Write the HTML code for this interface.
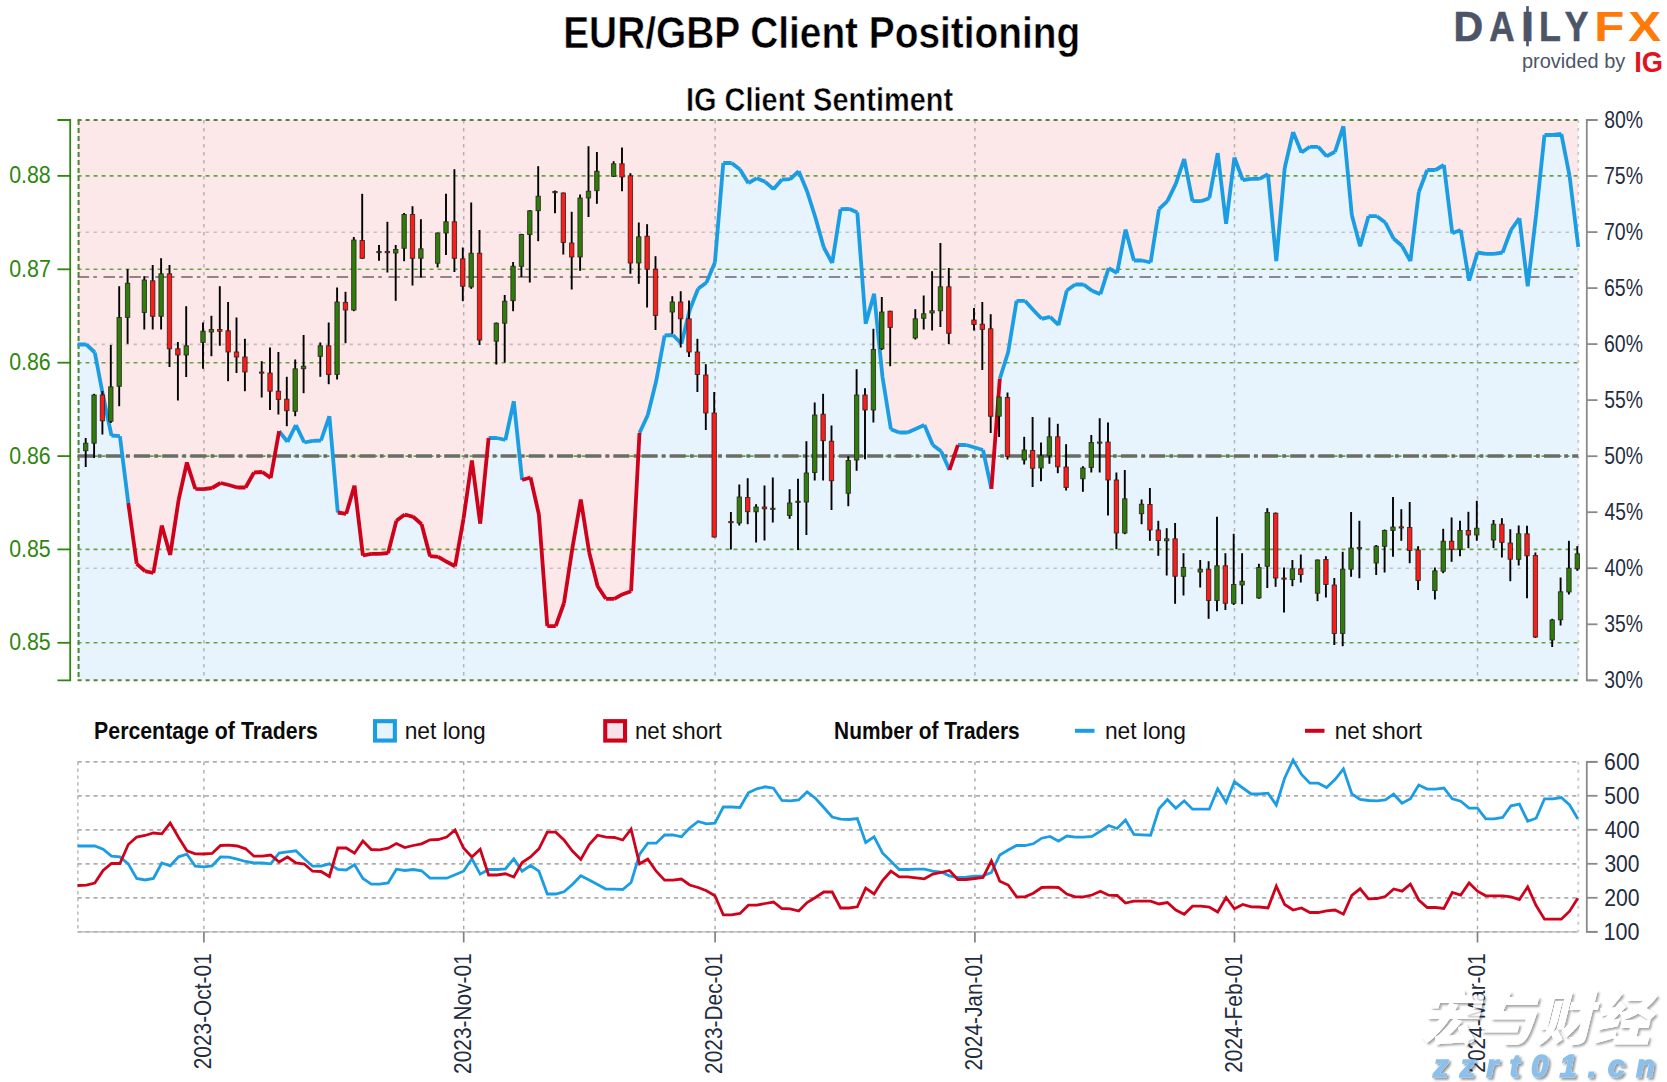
<!DOCTYPE html>
<html lang="en"><head><meta charset="utf-8"><title>EUR/GBP Client Positioning</title>
<style>html,body{margin:0;padding:0;background:#fff}svg{display:block}</style></head>
<body>
<svg width="1667" height="1082" viewBox="0 0 1667 1082" font-family="'Liberation Sans', sans-serif">
<rect width="1667" height="1082" fill="#fff"/>
<rect x="77.6" y="120.0" width="1500.7" height="560.3" fill="#fce8e9"/>
<polygon points="77.6,680.3 77.6,344.5 86.4,344.5 94.8,352.5 103.1,396.0 111.5,435.5 119.9,436.2 128.3,503.0 136.7,563.8 145.0,571.2 153.4,573.0 161.8,525.5 170.2,555.0 178.6,500.0 186.9,462.5 195.3,488.8 203.7,489.2 212.1,488.0 220.5,483.0 228.8,485.0 237.2,487.5 245.6,487.5 254.0,472.5 262.4,472.0 270.7,478.0 279.1,431.2 287.5,441.8 295.9,425.0 304.3,442.5 312.6,440.8 321.0,440.5 329.4,416.2 337.8,512.5 346.2,513.8 354.5,485.5 362.9,555.5 371.3,553.8 379.7,553.8 388.1,553.0 396.4,520.8 404.8,514.5 413.2,516.8 421.6,524.2 430.0,556.2 438.3,556.8 446.7,561.8 455.1,566.2 463.5,518.8 471.9,460.5 480.2,523.8 488.6,438.0 497.0,438.0 505.4,440.0 513.8,401.2 522.1,480.0 530.5,477.5 538.9,514.5 547.3,626.2 555.7,626.2 564.0,603.0 572.4,548.0 580.8,499.5 589.2,552.5 597.6,586.2 605.9,598.8 614.3,598.8 622.7,594.2 631.1,591.2 639.5,433.0 647.8,415.0 656.2,381.0 664.6,335.5 673.0,335.0 681.4,343.8 689.7,310.0 698.1,288.8 706.5,282.5 714.9,262.5 723.3,163.0 731.6,163.0 740.0,169.5 748.4,183.2 756.8,178.2 765.2,181.8 773.5,189.2 781.9,179.5 790.3,179.2 798.7,171.2 807.1,191.2 815.4,217.5 823.8,247.5 832.2,263.0 840.6,209.2 849.0,208.8 857.3,212.5 865.7,323.8 874.1,293.8 882.5,377.0 890.9,429.2 899.2,432.5 907.6,432.5 916.0,428.8 924.4,425.0 932.8,445.0 941.1,451.2 949.5,470.0 957.9,445.0 966.3,445.0 974.7,447.5 983.0,450.0 991.4,488.8 999.8,378.8 1008.2,352.0 1016.6,300.8 1024.9,300.8 1033.3,310.0 1041.7,318.8 1050.1,316.8 1058.5,325.0 1066.8,290.5 1075.2,284.5 1083.6,284.5 1092.0,290.8 1100.4,294.2 1108.7,268.2 1117.1,273.0 1125.5,229.5 1133.9,260.5 1142.3,260.5 1150.6,262.5 1159.0,209.2 1167.4,201.2 1175.8,183.8 1184.2,158.8 1192.5,201.2 1200.9,201.2 1209.3,198.2 1217.7,153.0 1226.1,223.8 1234.4,157.5 1242.8,180.0 1251.2,178.8 1259.6,178.8 1268.0,174.2 1276.3,261.2 1284.7,168.0 1293.1,132.0 1301.5,152.5 1309.9,146.8 1318.2,146.8 1326.6,156.2 1335.0,151.8 1343.4,126.2 1351.8,215.0 1360.1,246.2 1368.5,216.2 1376.9,216.2 1385.3,222.5 1393.7,238.8 1402.0,245.8 1410.4,261.2 1418.8,192.0 1427.2,170.0 1435.6,170.0 1443.9,165.0 1452.3,233.2 1460.7,230.0 1469.1,280.8 1477.5,252.5 1485.8,253.8 1494.2,253.8 1502.6,252.5 1511.0,230.0 1519.4,218.2 1527.7,286.2 1536.1,215.0 1544.5,135.0 1552.9,135.0 1561.3,133.8 1569.6,176.2 1578.3,247.0 1578.3,680.3" fill="#e8f4fd"/>
<line x1="203.9" y1="120.0" x2="203.9" y2="680.3" stroke="#808488" stroke-opacity="0.55" stroke-width="1.5" stroke-dasharray="3.4 4.6"/>
<line x1="463.7" y1="120.0" x2="463.7" y2="680.3" stroke="#808488" stroke-opacity="0.55" stroke-width="1.5" stroke-dasharray="3.4 4.6"/>
<line x1="715.1" y1="120.0" x2="715.1" y2="680.3" stroke="#808488" stroke-opacity="0.55" stroke-width="1.5" stroke-dasharray="3.4 4.6"/>
<line x1="974.9" y1="120.0" x2="974.9" y2="680.3" stroke="#808488" stroke-opacity="0.55" stroke-width="1.5" stroke-dasharray="3.4 4.6"/>
<line x1="1234.5" y1="120.0" x2="1234.5" y2="680.3" stroke="#808488" stroke-opacity="0.55" stroke-width="1.5" stroke-dasharray="3.4 4.6"/>
<line x1="1477.5" y1="120.0" x2="1477.5" y2="680.3" stroke="#808488" stroke-opacity="0.55" stroke-width="1.5" stroke-dasharray="3.4 4.6"/>
<line x1="77.6" y1="232.3" x2="1578.3" y2="232.3" stroke="#999" stroke-opacity="0.55" stroke-width="1.6" stroke-dasharray="3.3 4.7"/>
<line x1="77.6" y1="344.4" x2="1578.3" y2="344.4" stroke="#999" stroke-opacity="0.55" stroke-width="1.6" stroke-dasharray="3.3 4.7"/>
<line x1="77.6" y1="568.3" x2="1578.3" y2="568.3" stroke="#999" stroke-opacity="0.55" stroke-width="1.6" stroke-dasharray="3.3 4.7"/>
<line x1="77.6" y1="175.9" x2="1578.3" y2="175.9" stroke="#64a23f" stroke-width="1.6" stroke-dasharray="3.9 4.1"/>
<line x1="77.6" y1="269.3" x2="1578.3" y2="269.3" stroke="#64a23f" stroke-width="1.6" stroke-dasharray="3.9 4.1"/>
<line x1="77.6" y1="362.7" x2="1578.3" y2="362.7" stroke="#64a23f" stroke-width="1.6" stroke-dasharray="3.9 4.1"/>
<line x1="77.6" y1="456.1" x2="1578.3" y2="456.1" stroke="#64a23f" stroke-width="1.6" stroke-dasharray="3.9 4.1"/>
<line x1="77.6" y1="549.4" x2="1578.3" y2="549.4" stroke="#64a23f" stroke-width="1.6" stroke-dasharray="3.9 4.1"/>
<line x1="77.6" y1="642.8" x2="1578.3" y2="642.8" stroke="#64a23f" stroke-width="1.6" stroke-dasharray="3.9 4.1"/>
<line x1="77.6" y1="120.0" x2="1578.3" y2="120.0" stroke="#4f8636" stroke-width="2" stroke-dasharray="4 4"/>
<line x1="77.6" y1="680.3" x2="1578.3" y2="680.3" stroke="#4f8636" stroke-width="2" stroke-dasharray="4 4"/>
<line x1="78.6" y1="120.0" x2="78.6" y2="680.3" stroke="#4d8635" stroke-width="2" stroke-dasharray="5 3"/>
<line x1="1578.3" y1="120.0" x2="1578.3" y2="680.3" stroke="#cacaca" stroke-width="1.8" stroke-dasharray="3 5"/>
<line x1="77.6" y1="277" x2="1578.3" y2="277" stroke="#6b6464" stroke-width="1.6" stroke-dasharray="11.5 4.2 3.6 6.6"/>
<line x1="77.6" y1="456" x2="1578.3" y2="456" stroke="#6a6d66" stroke-width="3.5" stroke-dasharray="16 4.2 3.8 4.2"/>
<path d="M77.6 344.5L86.4 344.5M86.4 344.5L94.8 352.5M94.8 352.5L103.1 396.0M103.1 396.0L111.5 435.5M111.5 435.5L119.9 436.2M119.9 436.2L128.3 503.0M279.1 431.2L287.5 441.8M287.5 441.8L295.9 425.0M295.9 425.0L304.3 442.5M304.3 442.5L312.6 440.8M312.6 440.8L321.0 440.5M321.0 440.5L329.4 416.2M329.4 416.2L337.8 512.5M488.6 438.0L497.0 438.0M497.0 438.0L505.4 440.0M505.4 440.0L513.8 401.2M513.8 401.2L522.1 480.0M639.5 433.0L647.8 415.0M647.8 415.0L656.2 381.0M656.2 381.0L664.6 335.5M664.6 335.5L673.0 335.0M673.0 335.0L681.4 343.8M681.4 343.8L689.7 310.0M689.7 310.0L698.1 288.8M698.1 288.8L706.5 282.5M706.5 282.5L714.9 262.5M714.9 262.5L723.3 163.0M723.3 163.0L731.6 163.0M731.6 163.0L740.0 169.5M740.0 169.5L748.4 183.2M748.4 183.2L756.8 178.2M756.8 178.2L765.2 181.8M765.2 181.8L773.5 189.2M773.5 189.2L781.9 179.5M781.9 179.5L790.3 179.2M790.3 179.2L798.7 171.2M798.7 171.2L807.1 191.2M807.1 191.2L815.4 217.5M815.4 217.5L823.8 247.5M823.8 247.5L832.2 263.0M832.2 263.0L840.6 209.2M840.6 209.2L849.0 208.8M849.0 208.8L857.3 212.5M857.3 212.5L865.7 323.8M865.7 323.8L874.1 293.8M874.1 293.8L882.5 377.0M882.5 377.0L890.9 429.2M890.9 429.2L899.2 432.5M899.2 432.5L907.6 432.5M907.6 432.5L916.0 428.8M916.0 428.8L924.4 425.0M924.4 425.0L932.8 445.0M932.8 445.0L941.1 451.2M941.1 451.2L949.5 470.0M957.9 445.0L966.3 445.0M966.3 445.0L974.7 447.5M974.7 447.5L983.0 450.0M983.0 450.0L991.4 488.8M999.8 378.8L1008.2 352.0M1008.2 352.0L1016.6 300.8M1016.6 300.8L1024.9 300.8M1024.9 300.8L1033.3 310.0M1033.3 310.0L1041.7 318.8M1041.7 318.8L1050.1 316.8M1050.1 316.8L1058.5 325.0M1058.5 325.0L1066.8 290.5M1066.8 290.5L1075.2 284.5M1075.2 284.5L1083.6 284.5M1083.6 284.5L1092.0 290.8M1092.0 290.8L1100.4 294.2M1100.4 294.2L1108.7 268.2M1108.7 268.2L1117.1 273.0M1117.1 273.0L1125.5 229.5M1125.5 229.5L1133.9 260.5M1133.9 260.5L1142.3 260.5M1142.3 260.5L1150.6 262.5M1150.6 262.5L1159.0 209.2M1159.0 209.2L1167.4 201.2M1167.4 201.2L1175.8 183.8M1175.8 183.8L1184.2 158.8M1184.2 158.8L1192.5 201.2M1192.5 201.2L1200.9 201.2M1200.9 201.2L1209.3 198.2M1209.3 198.2L1217.7 153.0M1217.7 153.0L1226.1 223.8M1226.1 223.8L1234.4 157.5M1234.4 157.5L1242.8 180.0M1242.8 180.0L1251.2 178.8M1251.2 178.8L1259.6 178.8M1259.6 178.8L1268.0 174.2M1268.0 174.2L1276.3 261.2M1276.3 261.2L1284.7 168.0M1284.7 168.0L1293.1 132.0M1293.1 132.0L1301.5 152.5M1301.5 152.5L1309.9 146.8M1309.9 146.8L1318.2 146.8M1318.2 146.8L1326.6 156.2M1326.6 156.2L1335.0 151.8M1335.0 151.8L1343.4 126.2M1343.4 126.2L1351.8 215.0M1351.8 215.0L1360.1 246.2M1360.1 246.2L1368.5 216.2M1368.5 216.2L1376.9 216.2M1376.9 216.2L1385.3 222.5M1385.3 222.5L1393.7 238.8M1393.7 238.8L1402.0 245.8M1402.0 245.8L1410.4 261.2M1410.4 261.2L1418.8 192.0M1418.8 192.0L1427.2 170.0M1427.2 170.0L1435.6 170.0M1435.6 170.0L1443.9 165.0M1443.9 165.0L1452.3 233.2M1452.3 233.2L1460.7 230.0M1460.7 230.0L1469.1 280.8M1469.1 280.8L1477.5 252.5M1477.5 252.5L1485.8 253.8M1485.8 253.8L1494.2 253.8M1494.2 253.8L1502.6 252.5M1502.6 252.5L1511.0 230.0M1511.0 230.0L1519.4 218.2M1519.4 218.2L1527.7 286.2M1527.7 286.2L1536.1 215.0M1536.1 215.0L1544.5 135.0M1544.5 135.0L1552.9 135.0M1552.9 135.0L1561.3 133.8M1561.3 133.8L1569.6 176.2M1569.6 176.2L1578.3 247.0" stroke="#1b9de3" stroke-width="3.8" fill="none" stroke-linecap="butt"/>
<path d="M128.3 503.0L136.7 563.8M136.7 563.8L145.0 571.2M145.0 571.2L153.4 573.0M153.4 573.0L161.8 525.5M161.8 525.5L170.2 555.0M170.2 555.0L178.6 500.0M178.6 500.0L186.9 462.5M186.9 462.5L195.3 488.8M195.3 488.8L203.7 489.2M203.7 489.2L212.1 488.0M212.1 488.0L220.5 483.0M220.5 483.0L228.8 485.0M228.8 485.0L237.2 487.5M237.2 487.5L245.6 487.5M245.6 487.5L254.0 472.5M254.0 472.5L262.4 472.0M262.4 472.0L270.7 478.0M270.7 478.0L279.1 431.2M337.8 512.5L346.2 513.8M346.2 513.8L354.5 485.5M354.5 485.5L362.9 555.5M362.9 555.5L371.3 553.8M371.3 553.8L379.7 553.8M379.7 553.8L388.1 553.0M388.1 553.0L396.4 520.8M396.4 520.8L404.8 514.5M404.8 514.5L413.2 516.8M413.2 516.8L421.6 524.2M421.6 524.2L430.0 556.2M430.0 556.2L438.3 556.8M438.3 556.8L446.7 561.8M446.7 561.8L455.1 566.2M455.1 566.2L463.5 518.8M463.5 518.8L471.9 460.5M471.9 460.5L480.2 523.8M480.2 523.8L488.6 438.0M522.1 480.0L530.5 477.5M530.5 477.5L538.9 514.5M538.9 514.5L547.3 626.2M547.3 626.2L555.7 626.2M555.7 626.2L564.0 603.0M564.0 603.0L572.4 548.0M572.4 548.0L580.8 499.5M580.8 499.5L589.2 552.5M589.2 552.5L597.6 586.2M597.6 586.2L605.9 598.8M605.9 598.8L614.3 598.8M614.3 598.8L622.7 594.2M622.7 594.2L631.1 591.2M631.1 591.2L639.5 433.0M949.5 470.0L957.9 445.0M991.4 488.8L999.8 378.8" stroke="#cf021b" stroke-width="3.8" fill="none" stroke-linecap="butt"/>
<line x1="85.7" y1="438.0" x2="85.7" y2="467.0" stroke="#000" stroke-width="1.9"/>
<rect x="83.48" y="443.2" width="4.4" height="7.5" fill="#2d7d0c" stroke="#2a1e14" stroke-opacity="0.85" stroke-width="0.9"/>
<line x1="94.1" y1="393.8" x2="94.1" y2="458.0" stroke="#000" stroke-width="1.9"/>
<rect x="91.86" y="395.0" width="4.4" height="48.2" fill="#2d7d0c" stroke="#2a1e14" stroke-opacity="0.85" stroke-width="0.9"/>
<line x1="102.4" y1="391.0" x2="102.4" y2="434.5" stroke="#000" stroke-width="1.9"/>
<rect x="100.24" y="395.0" width="4.4" height="25.8" fill="#fb1c1c" stroke="#2a1e14" stroke-opacity="0.85" stroke-width="0.9"/>
<line x1="110.8" y1="345.0" x2="110.8" y2="423.0" stroke="#000" stroke-width="1.9"/>
<rect x="108.62" y="386.8" width="4.4" height="34.5" fill="#2d7d0c" stroke="#2a1e14" stroke-opacity="0.85" stroke-width="0.9"/>
<line x1="119.2" y1="286.2" x2="119.2" y2="406.2" stroke="#000" stroke-width="1.9"/>
<rect x="117.00" y="317.5" width="4.4" height="68.8" fill="#2d7d0c" stroke="#2a1e14" stroke-opacity="0.85" stroke-width="0.9"/>
<line x1="127.6" y1="269.2" x2="127.6" y2="343.8" stroke="#000" stroke-width="1.9"/>
<rect x="125.38" y="283.2" width="4.4" height="34.2" fill="#2d7d0c" stroke="#2a1e14" stroke-opacity="0.85" stroke-width="0.9"/>
<line x1="144.3" y1="276.2" x2="144.3" y2="329.5" stroke="#000" stroke-width="1.9"/>
<rect x="142.14" y="280.0" width="4.4" height="32.5" fill="#2d7d0c" stroke="#2a1e14" stroke-opacity="0.85" stroke-width="0.9"/>
<line x1="152.7" y1="265.0" x2="152.7" y2="329.5" stroke="#000" stroke-width="1.9"/>
<rect x="150.52" y="280.8" width="4.4" height="35.5" fill="#fb1c1c" stroke="#2a1e14" stroke-opacity="0.85" stroke-width="0.9"/>
<line x1="161.1" y1="258.2" x2="161.1" y2="329.5" stroke="#000" stroke-width="1.9"/>
<rect x="158.90" y="273.8" width="4.4" height="42.5" fill="#2d7d0c" stroke="#2a1e14" stroke-opacity="0.85" stroke-width="0.9"/>
<line x1="169.5" y1="265.0" x2="169.5" y2="367.0" stroke="#000" stroke-width="1.9"/>
<rect x="167.28" y="273.8" width="4.4" height="75.0" fill="#fb1c1c" stroke="#2a1e14" stroke-opacity="0.85" stroke-width="0.9"/>
<line x1="177.9" y1="342.0" x2="177.9" y2="400.5" stroke="#000" stroke-width="1.9"/>
<rect x="175.66" y="348.8" width="4.4" height="6.2" fill="#fb1c1c" stroke="#2a1e14" stroke-opacity="0.85" stroke-width="0.9"/>
<line x1="186.2" y1="306.2" x2="186.2" y2="377.0" stroke="#000" stroke-width="1.9"/>
<rect x="184.04" y="345.8" width="4.4" height="9.2" fill="#2d7d0c" stroke="#2a1e14" stroke-opacity="0.85" stroke-width="0.9"/>
<line x1="203.0" y1="322.5" x2="203.0" y2="368.8" stroke="#000" stroke-width="1.9"/>
<rect x="200.80" y="331.2" width="4.4" height="11.2" fill="#2d7d0c" stroke="#2a1e14" stroke-opacity="0.85" stroke-width="0.9"/>
<line x1="211.4" y1="315.8" x2="211.4" y2="356.2" stroke="#000" stroke-width="1.9"/>
<rect x="209.18" y="329.5" width="4.4" height="2.5" fill="#2d7d0c" stroke="#2a1e14" stroke-opacity="0.85" stroke-width="0.9"/>
<line x1="219.8" y1="286.2" x2="219.8" y2="345.8" stroke="#000" stroke-width="1.9"/>
<rect x="217.56" y="329.5" width="4.4" height="1.8" fill="#fb1c1c" stroke="#2a1e14" stroke-opacity="0.85" stroke-width="0.9"/>
<line x1="228.1" y1="302.0" x2="228.1" y2="381.2" stroke="#000" stroke-width="1.9"/>
<rect x="225.94" y="330.8" width="4.4" height="21.2" fill="#fb1c1c" stroke="#2a1e14" stroke-opacity="0.85" stroke-width="0.9"/>
<line x1="236.5" y1="317.5" x2="236.5" y2="373.0" stroke="#000" stroke-width="1.9"/>
<rect x="234.32" y="352.0" width="4.4" height="5.0" fill="#fb1c1c" stroke="#2a1e14" stroke-opacity="0.85" stroke-width="0.9"/>
<line x1="244.9" y1="338.8" x2="244.9" y2="391.2" stroke="#000" stroke-width="1.9"/>
<rect x="242.70" y="357.0" width="4.4" height="15.0" fill="#fb1c1c" stroke="#2a1e14" stroke-opacity="0.85" stroke-width="0.9"/>
<line x1="261.7" y1="361.2" x2="261.7" y2="397.5" stroke="#000" stroke-width="1.9"/>
<rect x="259.46" y="372.0" width="4.4" height="1.2" fill="#fb1c1c" stroke="#2a1e14" stroke-opacity="0.85" stroke-width="0.9"/>
<line x1="270.0" y1="347.5" x2="270.0" y2="410.0" stroke="#000" stroke-width="1.9"/>
<rect x="267.84" y="373.0" width="4.4" height="18.2" fill="#fb1c1c" stroke="#2a1e14" stroke-opacity="0.85" stroke-width="0.9"/>
<line x1="278.4" y1="352.0" x2="278.4" y2="414.5" stroke="#000" stroke-width="1.9"/>
<rect x="276.22" y="391.2" width="4.4" height="8.2" fill="#fb1c1c" stroke="#2a1e14" stroke-opacity="0.85" stroke-width="0.9"/>
<line x1="286.8" y1="376.8" x2="286.8" y2="426.2" stroke="#000" stroke-width="1.9"/>
<rect x="284.60" y="399.2" width="4.4" height="11.5" fill="#fb1c1c" stroke="#2a1e14" stroke-opacity="0.85" stroke-width="0.9"/>
<line x1="295.2" y1="359.5" x2="295.2" y2="416.2" stroke="#000" stroke-width="1.9"/>
<rect x="292.98" y="368.8" width="4.4" height="42.5" fill="#2d7d0c" stroke="#2a1e14" stroke-opacity="0.85" stroke-width="0.9"/>
<line x1="303.6" y1="335.0" x2="303.6" y2="393.2" stroke="#000" stroke-width="1.9"/>
<rect x="301.36" y="366.2" width="4.4" height="2.5" fill="#2d7d0c" stroke="#2a1e14" stroke-opacity="0.85" stroke-width="0.9"/>
<line x1="320.3" y1="342.5" x2="320.3" y2="376.8" stroke="#000" stroke-width="1.9"/>
<rect x="318.12" y="345.8" width="4.4" height="10.5" fill="#2d7d0c" stroke="#2a1e14" stroke-opacity="0.85" stroke-width="0.9"/>
<line x1="328.7" y1="322.5" x2="328.7" y2="384.2" stroke="#000" stroke-width="1.9"/>
<rect x="326.50" y="345.8" width="4.4" height="28.8" fill="#fb1c1c" stroke="#2a1e14" stroke-opacity="0.85" stroke-width="0.9"/>
<line x1="337.1" y1="287.5" x2="337.1" y2="379.5" stroke="#000" stroke-width="1.9"/>
<rect x="334.88" y="302.0" width="4.4" height="72.5" fill="#2d7d0c" stroke="#2a1e14" stroke-opacity="0.85" stroke-width="0.9"/>
<line x1="345.5" y1="291.8" x2="345.5" y2="343.2" stroke="#000" stroke-width="1.9"/>
<rect x="343.26" y="302.5" width="4.4" height="7.5" fill="#fb1c1c" stroke="#2a1e14" stroke-opacity="0.85" stroke-width="0.9"/>
<line x1="353.8" y1="237.0" x2="353.8" y2="311.2" stroke="#000" stroke-width="1.9"/>
<rect x="351.64" y="240.0" width="4.4" height="70.0" fill="#2d7d0c" stroke="#2a1e14" stroke-opacity="0.85" stroke-width="0.9"/>
<line x1="362.2" y1="193.8" x2="362.2" y2="258.8" stroke="#000" stroke-width="1.9"/>
<rect x="360.02" y="240.5" width="4.4" height="17.8" fill="#fb1c1c" stroke="#2a1e14" stroke-opacity="0.85" stroke-width="0.9"/>
<line x1="379.0" y1="245.0" x2="379.0" y2="260.8" stroke="#000" stroke-width="1.9"/>
<rect x="376.78" y="251.5" width="4.4" height="1.2" fill="#2d7d0c" stroke="#2a1e14" stroke-opacity="0.85" stroke-width="0.9"/>
<line x1="387.4" y1="221.8" x2="387.4" y2="272.5" stroke="#000" stroke-width="1.9"/>
<rect x="385.16" y="251.5" width="4.4" height="1.2" fill="#fb1c1c" stroke="#2a1e14" stroke-opacity="0.85" stroke-width="0.9"/>
<line x1="395.7" y1="245.0" x2="395.7" y2="300.8" stroke="#000" stroke-width="1.9"/>
<rect x="393.54" y="249.5" width="4.4" height="3.5" fill="#2d7d0c" stroke="#2a1e14" stroke-opacity="0.85" stroke-width="0.9"/>
<line x1="404.1" y1="213.0" x2="404.1" y2="261.2" stroke="#000" stroke-width="1.9"/>
<rect x="401.92" y="214.5" width="4.4" height="33.8" fill="#2d7d0c" stroke="#2a1e14" stroke-opacity="0.85" stroke-width="0.9"/>
<line x1="412.5" y1="206.2" x2="412.5" y2="285.5" stroke="#000" stroke-width="1.9"/>
<rect x="410.30" y="214.5" width="4.4" height="43.8" fill="#fb1c1c" stroke="#2a1e14" stroke-opacity="0.85" stroke-width="0.9"/>
<line x1="420.9" y1="219.2" x2="420.9" y2="277.5" stroke="#000" stroke-width="1.9"/>
<rect x="418.68" y="248.8" width="4.4" height="9.5" fill="#2d7d0c" stroke="#2a1e14" stroke-opacity="0.85" stroke-width="0.9"/>
<line x1="437.6" y1="232.5" x2="437.6" y2="267.5" stroke="#000" stroke-width="1.9"/>
<rect x="435.44" y="233.0" width="4.4" height="30.2" fill="#2d7d0c" stroke="#2a1e14" stroke-opacity="0.85" stroke-width="0.9"/>
<line x1="446.0" y1="193.8" x2="446.0" y2="255.0" stroke="#000" stroke-width="1.9"/>
<rect x="443.82" y="221.8" width="4.4" height="11.2" fill="#2d7d0c" stroke="#2a1e14" stroke-opacity="0.85" stroke-width="0.9"/>
<line x1="454.4" y1="169.2" x2="454.4" y2="272.0" stroke="#000" stroke-width="1.9"/>
<rect x="452.20" y="221.8" width="4.4" height="36.5" fill="#fb1c1c" stroke="#2a1e14" stroke-opacity="0.85" stroke-width="0.9"/>
<line x1="462.8" y1="247.5" x2="462.8" y2="301.2" stroke="#000" stroke-width="1.9"/>
<rect x="460.58" y="258.8" width="4.4" height="27.5" fill="#fb1c1c" stroke="#2a1e14" stroke-opacity="0.85" stroke-width="0.9"/>
<line x1="471.2" y1="202.5" x2="471.2" y2="288.8" stroke="#000" stroke-width="1.9"/>
<rect x="468.96" y="253.2" width="4.4" height="33.8" fill="#2d7d0c" stroke="#2a1e14" stroke-opacity="0.85" stroke-width="0.9"/>
<line x1="479.5" y1="230.0" x2="479.5" y2="345.0" stroke="#000" stroke-width="1.9"/>
<rect x="477.34" y="253.2" width="4.4" height="86.8" fill="#fb1c1c" stroke="#2a1e14" stroke-opacity="0.85" stroke-width="0.9"/>
<line x1="496.3" y1="322.5" x2="496.3" y2="364.5" stroke="#000" stroke-width="1.9"/>
<rect x="494.10" y="323.2" width="4.4" height="18.0" fill="#2d7d0c" stroke="#2a1e14" stroke-opacity="0.85" stroke-width="0.9"/>
<line x1="504.7" y1="295.0" x2="504.7" y2="362.5" stroke="#000" stroke-width="1.9"/>
<rect x="502.48" y="301.2" width="4.4" height="22.0" fill="#2d7d0c" stroke="#2a1e14" stroke-opacity="0.85" stroke-width="0.9"/>
<line x1="513.1" y1="262.0" x2="513.1" y2="311.2" stroke="#000" stroke-width="1.9"/>
<rect x="510.86" y="266.2" width="4.4" height="34.5" fill="#2d7d0c" stroke="#2a1e14" stroke-opacity="0.85" stroke-width="0.9"/>
<line x1="521.4" y1="233.8" x2="521.4" y2="277.0" stroke="#000" stroke-width="1.9"/>
<rect x="519.24" y="234.5" width="4.4" height="31.8" fill="#2d7d0c" stroke="#2a1e14" stroke-opacity="0.85" stroke-width="0.9"/>
<line x1="529.8" y1="210.0" x2="529.8" y2="282.5" stroke="#000" stroke-width="1.9"/>
<rect x="527.62" y="210.8" width="4.4" height="23.8" fill="#2d7d0c" stroke="#2a1e14" stroke-opacity="0.85" stroke-width="0.9"/>
<line x1="538.2" y1="166.2" x2="538.2" y2="241.2" stroke="#000" stroke-width="1.9"/>
<rect x="536.00" y="196.2" width="4.4" height="14.5" fill="#2d7d0c" stroke="#2a1e14" stroke-opacity="0.85" stroke-width="0.9"/>
<line x1="555.0" y1="190.5" x2="555.0" y2="213.2" stroke="#000" stroke-width="1.9"/>
<rect x="552.76" y="191.5" width="4.4" height="1.2" fill="#2d7d0c" stroke="#2a1e14" stroke-opacity="0.85" stroke-width="0.9"/>
<line x1="563.3" y1="192.5" x2="563.3" y2="254.5" stroke="#000" stroke-width="1.9"/>
<rect x="561.14" y="193.0" width="4.4" height="49.5" fill="#fb1c1c" stroke="#2a1e14" stroke-opacity="0.85" stroke-width="0.9"/>
<line x1="571.7" y1="211.8" x2="571.7" y2="289.5" stroke="#000" stroke-width="1.9"/>
<rect x="569.52" y="243.0" width="4.4" height="14.0" fill="#fb1c1c" stroke="#2a1e14" stroke-opacity="0.85" stroke-width="0.9"/>
<line x1="580.1" y1="194.5" x2="580.1" y2="270.8" stroke="#000" stroke-width="1.9"/>
<rect x="577.90" y="198.0" width="4.4" height="59.0" fill="#2d7d0c" stroke="#2a1e14" stroke-opacity="0.85" stroke-width="0.9"/>
<line x1="588.5" y1="146.2" x2="588.5" y2="217.0" stroke="#000" stroke-width="1.9"/>
<rect x="586.28" y="191.2" width="4.4" height="6.8" fill="#2d7d0c" stroke="#2a1e14" stroke-opacity="0.85" stroke-width="0.9"/>
<line x1="596.9" y1="152.0" x2="596.9" y2="203.8" stroke="#000" stroke-width="1.9"/>
<rect x="594.66" y="171.2" width="4.4" height="19.5" fill="#2d7d0c" stroke="#2a1e14" stroke-opacity="0.85" stroke-width="0.9"/>
<line x1="613.6" y1="161.2" x2="613.6" y2="177.0" stroke="#000" stroke-width="1.9"/>
<rect x="611.42" y="163.8" width="4.4" height="12.5" fill="#2d7d0c" stroke="#2a1e14" stroke-opacity="0.85" stroke-width="0.9"/>
<line x1="622.0" y1="147.5" x2="622.0" y2="191.2" stroke="#000" stroke-width="1.9"/>
<rect x="619.80" y="163.8" width="4.4" height="13.2" fill="#fb1c1c" stroke="#2a1e14" stroke-opacity="0.85" stroke-width="0.9"/>
<line x1="630.4" y1="173.2" x2="630.4" y2="273.8" stroke="#000" stroke-width="1.9"/>
<rect x="628.18" y="175.8" width="4.4" height="87.2" fill="#fb1c1c" stroke="#2a1e14" stroke-opacity="0.85" stroke-width="0.9"/>
<line x1="638.8" y1="222.5" x2="638.8" y2="283.8" stroke="#000" stroke-width="1.9"/>
<rect x="636.56" y="236.8" width="4.4" height="26.2" fill="#2d7d0c" stroke="#2a1e14" stroke-opacity="0.85" stroke-width="0.9"/>
<line x1="647.1" y1="224.2" x2="647.1" y2="307.5" stroke="#000" stroke-width="1.9"/>
<rect x="644.94" y="236.2" width="4.4" height="33.0" fill="#fb1c1c" stroke="#2a1e14" stroke-opacity="0.85" stroke-width="0.9"/>
<line x1="655.5" y1="256.2" x2="655.5" y2="330.0" stroke="#000" stroke-width="1.9"/>
<rect x="653.32" y="269.2" width="4.4" height="46.2" fill="#fb1c1c" stroke="#2a1e14" stroke-opacity="0.85" stroke-width="0.9"/>
<line x1="672.3" y1="296.2" x2="672.3" y2="333.8" stroke="#000" stroke-width="1.9"/>
<rect x="670.08" y="302.0" width="4.4" height="10.0" fill="#2d7d0c" stroke="#2a1e14" stroke-opacity="0.85" stroke-width="0.9"/>
<line x1="680.7" y1="291.2" x2="680.7" y2="347.5" stroke="#000" stroke-width="1.9"/>
<rect x="678.46" y="302.0" width="4.4" height="16.8" fill="#fb1c1c" stroke="#2a1e14" stroke-opacity="0.85" stroke-width="0.9"/>
<line x1="689.0" y1="300.5" x2="689.0" y2="357.0" stroke="#000" stroke-width="1.9"/>
<rect x="686.84" y="318.8" width="4.4" height="33.2" fill="#fb1c1c" stroke="#2a1e14" stroke-opacity="0.85" stroke-width="0.9"/>
<line x1="697.4" y1="338.8" x2="697.4" y2="392.0" stroke="#000" stroke-width="1.9"/>
<rect x="695.22" y="352.0" width="4.4" height="22.5" fill="#fb1c1c" stroke="#2a1e14" stroke-opacity="0.85" stroke-width="0.9"/>
<line x1="705.8" y1="364.2" x2="705.8" y2="430.0" stroke="#000" stroke-width="1.9"/>
<rect x="703.60" y="375.0" width="4.4" height="38.0" fill="#fb1c1c" stroke="#2a1e14" stroke-opacity="0.85" stroke-width="0.9"/>
<line x1="714.2" y1="392.0" x2="714.2" y2="537.5" stroke="#000" stroke-width="1.9"/>
<rect x="711.98" y="413.0" width="4.4" height="124.0" fill="#fb1c1c" stroke="#2a1e14" stroke-opacity="0.85" stroke-width="0.9"/>
<line x1="730.9" y1="512.0" x2="730.9" y2="549.5" stroke="#000" stroke-width="1.9"/>
<rect x="728.74" y="521.5" width="4.4" height="1.2" fill="#fb1c1c" stroke="#2a1e14" stroke-opacity="0.85" stroke-width="0.9"/>
<line x1="739.3" y1="484.5" x2="739.3" y2="525.5" stroke="#000" stroke-width="1.9"/>
<rect x="737.12" y="497.0" width="4.4" height="26.0" fill="#2d7d0c" stroke="#2a1e14" stroke-opacity="0.85" stroke-width="0.9"/>
<line x1="747.7" y1="478.2" x2="747.7" y2="524.2" stroke="#000" stroke-width="1.9"/>
<rect x="745.50" y="497.5" width="4.4" height="14.2" fill="#fb1c1c" stroke="#2a1e14" stroke-opacity="0.85" stroke-width="0.9"/>
<line x1="756.1" y1="504.2" x2="756.1" y2="542.5" stroke="#000" stroke-width="1.9"/>
<rect x="753.88" y="507.0" width="4.4" height="4.8" fill="#2d7d0c" stroke="#2a1e14" stroke-opacity="0.85" stroke-width="0.9"/>
<line x1="764.5" y1="485.5" x2="764.5" y2="540.5" stroke="#000" stroke-width="1.9"/>
<rect x="762.26" y="507.0" width="4.4" height="1.8" fill="#fb1c1c" stroke="#2a1e14" stroke-opacity="0.85" stroke-width="0.9"/>
<line x1="772.8" y1="477.5" x2="772.8" y2="522.5" stroke="#000" stroke-width="1.9"/>
<rect x="770.64" y="508.2" width="4.4" height="1.2" fill="#2d7d0c" stroke="#2a1e14" stroke-opacity="0.85" stroke-width="0.9"/>
<line x1="789.6" y1="489.2" x2="789.6" y2="518.8" stroke="#000" stroke-width="1.9"/>
<rect x="787.40" y="503.0" width="4.4" height="12.5" fill="#2d7d0c" stroke="#2a1e14" stroke-opacity="0.85" stroke-width="0.9"/>
<line x1="798.0" y1="478.8" x2="798.0" y2="550.0" stroke="#000" stroke-width="1.9"/>
<rect x="795.78" y="501.2" width="4.4" height="1.2" fill="#2d7d0c" stroke="#2a1e14" stroke-opacity="0.85" stroke-width="0.9"/>
<line x1="806.4" y1="441.2" x2="806.4" y2="535.0" stroke="#000" stroke-width="1.9"/>
<rect x="804.16" y="473.0" width="4.4" height="29.0" fill="#2d7d0c" stroke="#2a1e14" stroke-opacity="0.85" stroke-width="0.9"/>
<line x1="814.7" y1="402.5" x2="814.7" y2="480.5" stroke="#000" stroke-width="1.9"/>
<rect x="812.54" y="415.0" width="4.4" height="57.5" fill="#2d7d0c" stroke="#2a1e14" stroke-opacity="0.85" stroke-width="0.9"/>
<line x1="823.1" y1="393.8" x2="823.1" y2="480.5" stroke="#000" stroke-width="1.9"/>
<rect x="820.92" y="414.2" width="4.4" height="26.5" fill="#fb1c1c" stroke="#2a1e14" stroke-opacity="0.85" stroke-width="0.9"/>
<line x1="831.5" y1="425.5" x2="831.5" y2="510.0" stroke="#000" stroke-width="1.9"/>
<rect x="829.30" y="441.2" width="4.4" height="39.5" fill="#fb1c1c" stroke="#2a1e14" stroke-opacity="0.85" stroke-width="0.9"/>
<line x1="848.3" y1="456.2" x2="848.3" y2="506.2" stroke="#000" stroke-width="1.9"/>
<rect x="846.06" y="460.5" width="4.4" height="32.8" fill="#2d7d0c" stroke="#2a1e14" stroke-opacity="0.85" stroke-width="0.9"/>
<line x1="856.6" y1="369.2" x2="856.6" y2="470.8" stroke="#000" stroke-width="1.9"/>
<rect x="854.44" y="395.0" width="4.4" height="65.0" fill="#2d7d0c" stroke="#2a1e14" stroke-opacity="0.85" stroke-width="0.9"/>
<line x1="865.0" y1="388.2" x2="865.0" y2="459.2" stroke="#000" stroke-width="1.9"/>
<rect x="862.82" y="395.0" width="4.4" height="15.0" fill="#fb1c1c" stroke="#2a1e14" stroke-opacity="0.85" stroke-width="0.9"/>
<line x1="873.4" y1="328.8" x2="873.4" y2="422.5" stroke="#000" stroke-width="1.9"/>
<rect x="871.20" y="349.5" width="4.4" height="60.5" fill="#2d7d0c" stroke="#2a1e14" stroke-opacity="0.85" stroke-width="0.9"/>
<line x1="881.8" y1="297.0" x2="881.8" y2="350.0" stroke="#000" stroke-width="1.9"/>
<rect x="879.58" y="312.0" width="4.4" height="36.8" fill="#2d7d0c" stroke="#2a1e14" stroke-opacity="0.85" stroke-width="0.9"/>
<line x1="890.2" y1="310.8" x2="890.2" y2="366.2" stroke="#000" stroke-width="1.9"/>
<rect x="887.96" y="311.2" width="4.4" height="16.2" fill="#fb1c1c" stroke="#2a1e14" stroke-opacity="0.85" stroke-width="0.9"/>
<line x1="915.3" y1="309.2" x2="915.3" y2="339.5" stroke="#000" stroke-width="1.9"/>
<rect x="913.10" y="318.8" width="4.4" height="19.2" fill="#2d7d0c" stroke="#2a1e14" stroke-opacity="0.85" stroke-width="0.9"/>
<line x1="923.7" y1="295.5" x2="923.7" y2="329.5" stroke="#000" stroke-width="1.9"/>
<rect x="921.48" y="313.8" width="4.4" height="4.5" fill="#2d7d0c" stroke="#2a1e14" stroke-opacity="0.85" stroke-width="0.9"/>
<line x1="932.1" y1="271.2" x2="932.1" y2="330.5" stroke="#000" stroke-width="1.9"/>
<rect x="929.86" y="310.8" width="4.4" height="2.2" fill="#2d7d0c" stroke="#2a1e14" stroke-opacity="0.85" stroke-width="0.9"/>
<line x1="940.4" y1="243.0" x2="940.4" y2="327.0" stroke="#000" stroke-width="1.9"/>
<rect x="938.24" y="286.8" width="4.4" height="24.0" fill="#2d7d0c" stroke="#2a1e14" stroke-opacity="0.85" stroke-width="0.9"/>
<line x1="948.8" y1="268.0" x2="948.8" y2="344.2" stroke="#000" stroke-width="1.9"/>
<rect x="946.62" y="286.8" width="4.4" height="46.5" fill="#fb1c1c" stroke="#2a1e14" stroke-opacity="0.85" stroke-width="0.9"/>
<line x1="974.0" y1="308.0" x2="974.0" y2="330.5" stroke="#000" stroke-width="1.9"/>
<rect x="971.76" y="320.0" width="4.4" height="4.5" fill="#fb1c1c" stroke="#2a1e14" stroke-opacity="0.85" stroke-width="0.9"/>
<line x1="982.3" y1="302.0" x2="982.3" y2="370.0" stroke="#000" stroke-width="1.9"/>
<rect x="980.14" y="324.2" width="4.4" height="5.2" fill="#fb1c1c" stroke="#2a1e14" stroke-opacity="0.85" stroke-width="0.9"/>
<line x1="990.7" y1="314.2" x2="990.7" y2="433.0" stroke="#000" stroke-width="1.9"/>
<rect x="988.52" y="328.8" width="4.4" height="87.5" fill="#fb1c1c" stroke="#2a1e14" stroke-opacity="0.85" stroke-width="0.9"/>
<line x1="999.1" y1="397.0" x2="999.1" y2="437.0" stroke="#000" stroke-width="1.9"/>
<rect x="996.90" y="397.0" width="4.4" height="19.2" fill="#2d7d0c" stroke="#2a1e14" stroke-opacity="0.85" stroke-width="0.9"/>
<line x1="1007.5" y1="392.5" x2="1007.5" y2="459.5" stroke="#000" stroke-width="1.9"/>
<rect x="1005.28" y="397.5" width="4.4" height="58.8" fill="#fb1c1c" stroke="#2a1e14" stroke-opacity="0.85" stroke-width="0.9"/>
<line x1="1024.2" y1="436.8" x2="1024.2" y2="464.5" stroke="#000" stroke-width="1.9"/>
<rect x="1022.04" y="450.0" width="4.4" height="10.0" fill="#2d7d0c" stroke="#2a1e14" stroke-opacity="0.85" stroke-width="0.9"/>
<line x1="1032.6" y1="417.0" x2="1032.6" y2="487.0" stroke="#000" stroke-width="1.9"/>
<rect x="1030.42" y="450.5" width="4.4" height="17.8" fill="#fb1c1c" stroke="#2a1e14" stroke-opacity="0.85" stroke-width="0.9"/>
<line x1="1041.0" y1="442.5" x2="1041.0" y2="481.2" stroke="#000" stroke-width="1.9"/>
<rect x="1038.80" y="455.8" width="4.4" height="12.2" fill="#2d7d0c" stroke="#2a1e14" stroke-opacity="0.85" stroke-width="0.9"/>
<line x1="1049.4" y1="417.5" x2="1049.4" y2="463.8" stroke="#000" stroke-width="1.9"/>
<rect x="1047.18" y="436.8" width="4.4" height="19.0" fill="#2d7d0c" stroke="#2a1e14" stroke-opacity="0.85" stroke-width="0.9"/>
<line x1="1057.8" y1="423.8" x2="1057.8" y2="473.2" stroke="#000" stroke-width="1.9"/>
<rect x="1055.56" y="436.8" width="4.4" height="30.0" fill="#fb1c1c" stroke="#2a1e14" stroke-opacity="0.85" stroke-width="0.9"/>
<line x1="1066.1" y1="444.2" x2="1066.1" y2="490.5" stroke="#000" stroke-width="1.9"/>
<rect x="1063.94" y="467.0" width="4.4" height="20.5" fill="#fb1c1c" stroke="#2a1e14" stroke-opacity="0.85" stroke-width="0.9"/>
<line x1="1082.9" y1="466.2" x2="1082.9" y2="491.8" stroke="#000" stroke-width="1.9"/>
<rect x="1080.70" y="468.0" width="4.4" height="10.8" fill="#2d7d0c" stroke="#2a1e14" stroke-opacity="0.85" stroke-width="0.9"/>
<line x1="1091.3" y1="435.0" x2="1091.3" y2="472.5" stroke="#000" stroke-width="1.9"/>
<rect x="1089.08" y="442.5" width="4.4" height="25.0" fill="#2d7d0c" stroke="#2a1e14" stroke-opacity="0.85" stroke-width="0.9"/>
<line x1="1099.7" y1="418.2" x2="1099.7" y2="472.5" stroke="#000" stroke-width="1.9"/>
<rect x="1097.46" y="442.0" width="4.4" height="1.2" fill="#2d7d0c" stroke="#2a1e14" stroke-opacity="0.85" stroke-width="0.9"/>
<line x1="1108.0" y1="422.5" x2="1108.0" y2="515.5" stroke="#000" stroke-width="1.9"/>
<rect x="1105.84" y="442.0" width="4.4" height="38.0" fill="#fb1c1c" stroke="#2a1e14" stroke-opacity="0.85" stroke-width="0.9"/>
<line x1="1116.4" y1="472.5" x2="1116.4" y2="549.2" stroke="#000" stroke-width="1.9"/>
<rect x="1114.22" y="480.0" width="4.4" height="53.0" fill="#fb1c1c" stroke="#2a1e14" stroke-opacity="0.85" stroke-width="0.9"/>
<line x1="1124.8" y1="470.0" x2="1124.8" y2="534.2" stroke="#000" stroke-width="1.9"/>
<rect x="1122.60" y="498.8" width="4.4" height="34.2" fill="#2d7d0c" stroke="#2a1e14" stroke-opacity="0.85" stroke-width="0.9"/>
<line x1="1141.6" y1="499.5" x2="1141.6" y2="524.2" stroke="#000" stroke-width="1.9"/>
<rect x="1139.36" y="504.2" width="4.4" height="9.5" fill="#2d7d0c" stroke="#2a1e14" stroke-opacity="0.85" stroke-width="0.9"/>
<line x1="1149.9" y1="488.0" x2="1149.9" y2="540.8" stroke="#000" stroke-width="1.9"/>
<rect x="1147.74" y="504.5" width="4.4" height="25.5" fill="#fb1c1c" stroke="#2a1e14" stroke-opacity="0.85" stroke-width="0.9"/>
<line x1="1158.3" y1="520.8" x2="1158.3" y2="555.8" stroke="#000" stroke-width="1.9"/>
<rect x="1156.12" y="530.0" width="4.4" height="10.5" fill="#fb1c1c" stroke="#2a1e14" stroke-opacity="0.85" stroke-width="0.9"/>
<line x1="1166.7" y1="528.2" x2="1166.7" y2="575.5" stroke="#000" stroke-width="1.9"/>
<rect x="1164.50" y="538.8" width="4.4" height="2.0" fill="#2d7d0c" stroke="#2a1e14" stroke-opacity="0.85" stroke-width="0.9"/>
<line x1="1175.1" y1="523.0" x2="1175.1" y2="603.8" stroke="#000" stroke-width="1.9"/>
<rect x="1172.88" y="538.8" width="4.4" height="37.5" fill="#fb1c1c" stroke="#2a1e14" stroke-opacity="0.85" stroke-width="0.9"/>
<line x1="1183.5" y1="553.2" x2="1183.5" y2="595.5" stroke="#000" stroke-width="1.9"/>
<rect x="1181.26" y="567.5" width="4.4" height="8.8" fill="#2d7d0c" stroke="#2a1e14" stroke-opacity="0.85" stroke-width="0.9"/>
<line x1="1200.2" y1="560.0" x2="1200.2" y2="587.5" stroke="#000" stroke-width="1.9"/>
<rect x="1198.02" y="569.2" width="4.4" height="2.8" fill="#2d7d0c" stroke="#2a1e14" stroke-opacity="0.85" stroke-width="0.9"/>
<line x1="1208.6" y1="561.2" x2="1208.6" y2="618.8" stroke="#000" stroke-width="1.9"/>
<rect x="1206.40" y="569.2" width="4.4" height="31.2" fill="#fb1c1c" stroke="#2a1e14" stroke-opacity="0.85" stroke-width="0.9"/>
<line x1="1217.0" y1="516.8" x2="1217.0" y2="611.2" stroke="#000" stroke-width="1.9"/>
<rect x="1214.78" y="565.8" width="4.4" height="34.8" fill="#2d7d0c" stroke="#2a1e14" stroke-opacity="0.85" stroke-width="0.9"/>
<line x1="1225.4" y1="553.2" x2="1225.4" y2="610.0" stroke="#000" stroke-width="1.9"/>
<rect x="1223.16" y="565.8" width="4.4" height="37.5" fill="#fb1c1c" stroke="#2a1e14" stroke-opacity="0.85" stroke-width="0.9"/>
<line x1="1233.7" y1="533.8" x2="1233.7" y2="605.0" stroke="#000" stroke-width="1.9"/>
<rect x="1231.54" y="584.5" width="4.4" height="18.8" fill="#2d7d0c" stroke="#2a1e14" stroke-opacity="0.85" stroke-width="0.9"/>
<line x1="1242.1" y1="553.2" x2="1242.1" y2="604.2" stroke="#000" stroke-width="1.9"/>
<rect x="1239.92" y="581.2" width="4.4" height="3.8" fill="#2d7d0c" stroke="#2a1e14" stroke-opacity="0.85" stroke-width="0.9"/>
<line x1="1258.9" y1="563.8" x2="1258.9" y2="598.8" stroke="#000" stroke-width="1.9"/>
<rect x="1256.68" y="567.5" width="4.4" height="30.5" fill="#2d7d0c" stroke="#2a1e14" stroke-opacity="0.85" stroke-width="0.9"/>
<line x1="1267.3" y1="508.2" x2="1267.3" y2="588.0" stroke="#000" stroke-width="1.9"/>
<rect x="1265.06" y="512.5" width="4.4" height="53.8" fill="#2d7d0c" stroke="#2a1e14" stroke-opacity="0.85" stroke-width="0.9"/>
<line x1="1275.6" y1="512.5" x2="1275.6" y2="586.8" stroke="#000" stroke-width="1.9"/>
<rect x="1273.44" y="513.2" width="4.4" height="64.8" fill="#fb1c1c" stroke="#2a1e14" stroke-opacity="0.85" stroke-width="0.9"/>
<line x1="1284.0" y1="567.5" x2="1284.0" y2="612.5" stroke="#000" stroke-width="1.9"/>
<rect x="1281.82" y="578.0" width="4.4" height="1.2" fill="#fb1c1c" stroke="#2a1e14" stroke-opacity="0.85" stroke-width="0.9"/>
<line x1="1292.4" y1="560.0" x2="1292.4" y2="586.2" stroke="#000" stroke-width="1.9"/>
<rect x="1290.20" y="568.8" width="4.4" height="10.8" fill="#2d7d0c" stroke="#2a1e14" stroke-opacity="0.85" stroke-width="0.9"/>
<line x1="1300.8" y1="554.5" x2="1300.8" y2="582.5" stroke="#000" stroke-width="1.9"/>
<rect x="1298.58" y="568.8" width="4.4" height="5.8" fill="#fb1c1c" stroke="#2a1e14" stroke-opacity="0.85" stroke-width="0.9"/>
<line x1="1317.5" y1="559.5" x2="1317.5" y2="601.2" stroke="#000" stroke-width="1.9"/>
<rect x="1315.34" y="560.0" width="4.4" height="33.2" fill="#2d7d0c" stroke="#2a1e14" stroke-opacity="0.85" stroke-width="0.9"/>
<line x1="1325.9" y1="556.2" x2="1325.9" y2="597.5" stroke="#000" stroke-width="1.9"/>
<rect x="1323.72" y="559.5" width="4.4" height="25.0" fill="#fb1c1c" stroke="#2a1e14" stroke-opacity="0.85" stroke-width="0.9"/>
<line x1="1334.3" y1="578.0" x2="1334.3" y2="645.0" stroke="#000" stroke-width="1.9"/>
<rect x="1332.10" y="585.0" width="4.4" height="48.5" fill="#fb1c1c" stroke="#2a1e14" stroke-opacity="0.85" stroke-width="0.9"/>
<line x1="1342.7" y1="551.8" x2="1342.7" y2="646.2" stroke="#000" stroke-width="1.9"/>
<rect x="1340.48" y="569.2" width="4.4" height="64.2" fill="#2d7d0c" stroke="#2a1e14" stroke-opacity="0.85" stroke-width="0.9"/>
<line x1="1351.1" y1="512.0" x2="1351.1" y2="576.8" stroke="#000" stroke-width="1.9"/>
<rect x="1348.86" y="548.0" width="4.4" height="21.2" fill="#2d7d0c" stroke="#2a1e14" stroke-opacity="0.85" stroke-width="0.9"/>
<line x1="1359.4" y1="520.8" x2="1359.4" y2="578.2" stroke="#000" stroke-width="1.9"/>
<rect x="1357.24" y="547.5" width="4.4" height="1.2" fill="#2d7d0c" stroke="#2a1e14" stroke-opacity="0.85" stroke-width="0.9"/>
<line x1="1376.2" y1="545.0" x2="1376.2" y2="575.0" stroke="#000" stroke-width="1.9"/>
<rect x="1374.00" y="546.2" width="4.4" height="16.8" fill="#2d7d0c" stroke="#2a1e14" stroke-opacity="0.85" stroke-width="0.9"/>
<line x1="1384.6" y1="529.5" x2="1384.6" y2="572.5" stroke="#000" stroke-width="1.9"/>
<rect x="1382.38" y="530.5" width="4.4" height="15.8" fill="#2d7d0c" stroke="#2a1e14" stroke-opacity="0.85" stroke-width="0.9"/>
<line x1="1393.0" y1="497.0" x2="1393.0" y2="556.8" stroke="#000" stroke-width="1.9"/>
<rect x="1390.76" y="527.0" width="4.4" height="3.5" fill="#2d7d0c" stroke="#2a1e14" stroke-opacity="0.85" stroke-width="0.9"/>
<line x1="1401.3" y1="509.2" x2="1401.3" y2="540.8" stroke="#000" stroke-width="1.9"/>
<rect x="1399.14" y="526.8" width="4.4" height="1.2" fill="#fb1c1c" stroke="#2a1e14" stroke-opacity="0.85" stroke-width="0.9"/>
<line x1="1409.7" y1="502.0" x2="1409.7" y2="563.2" stroke="#000" stroke-width="1.9"/>
<rect x="1407.52" y="527.5" width="4.4" height="23.0" fill="#fb1c1c" stroke="#2a1e14" stroke-opacity="0.85" stroke-width="0.9"/>
<line x1="1418.1" y1="546.2" x2="1418.1" y2="590.0" stroke="#000" stroke-width="1.9"/>
<rect x="1415.90" y="550.0" width="4.4" height="30.5" fill="#fb1c1c" stroke="#2a1e14" stroke-opacity="0.85" stroke-width="0.9"/>
<line x1="1434.9" y1="567.5" x2="1434.9" y2="599.5" stroke="#000" stroke-width="1.9"/>
<rect x="1432.66" y="570.8" width="4.4" height="19.8" fill="#2d7d0c" stroke="#2a1e14" stroke-opacity="0.85" stroke-width="0.9"/>
<line x1="1443.2" y1="528.8" x2="1443.2" y2="573.2" stroke="#000" stroke-width="1.9"/>
<rect x="1441.04" y="541.2" width="4.4" height="30.0" fill="#2d7d0c" stroke="#2a1e14" stroke-opacity="0.85" stroke-width="0.9"/>
<line x1="1451.6" y1="517.5" x2="1451.6" y2="561.8" stroke="#000" stroke-width="1.9"/>
<rect x="1449.42" y="541.2" width="4.4" height="8.2" fill="#fb1c1c" stroke="#2a1e14" stroke-opacity="0.85" stroke-width="0.9"/>
<line x1="1460.0" y1="520.8" x2="1460.0" y2="556.2" stroke="#000" stroke-width="1.9"/>
<rect x="1457.80" y="530.5" width="4.4" height="19.0" fill="#2d7d0c" stroke="#2a1e14" stroke-opacity="0.85" stroke-width="0.9"/>
<line x1="1468.4" y1="511.8" x2="1468.4" y2="548.2" stroke="#000" stroke-width="1.9"/>
<rect x="1466.18" y="530.5" width="4.4" height="4.5" fill="#fb1c1c" stroke="#2a1e14" stroke-opacity="0.85" stroke-width="0.9"/>
<line x1="1476.8" y1="500.8" x2="1476.8" y2="540.8" stroke="#000" stroke-width="1.9"/>
<rect x="1474.56" y="528.2" width="4.4" height="6.8" fill="#2d7d0c" stroke="#2a1e14" stroke-opacity="0.85" stroke-width="0.9"/>
<line x1="1493.5" y1="520.0" x2="1493.5" y2="548.0" stroke="#000" stroke-width="1.9"/>
<rect x="1491.32" y="524.2" width="4.4" height="15.8" fill="#2d7d0c" stroke="#2a1e14" stroke-opacity="0.85" stroke-width="0.9"/>
<line x1="1501.9" y1="518.2" x2="1501.9" y2="557.5" stroke="#000" stroke-width="1.9"/>
<rect x="1499.70" y="524.2" width="4.4" height="18.2" fill="#fb1c1c" stroke="#2a1e14" stroke-opacity="0.85" stroke-width="0.9"/>
<line x1="1510.3" y1="529.2" x2="1510.3" y2="581.2" stroke="#000" stroke-width="1.9"/>
<rect x="1508.08" y="543.0" width="4.4" height="16.2" fill="#fb1c1c" stroke="#2a1e14" stroke-opacity="0.85" stroke-width="0.9"/>
<line x1="1518.7" y1="525.5" x2="1518.7" y2="565.5" stroke="#000" stroke-width="1.9"/>
<rect x="1516.46" y="533.8" width="4.4" height="25.5" fill="#2d7d0c" stroke="#2a1e14" stroke-opacity="0.85" stroke-width="0.9"/>
<line x1="1527.0" y1="525.8" x2="1527.0" y2="598.2" stroke="#000" stroke-width="1.9"/>
<rect x="1524.84" y="533.8" width="4.4" height="22.0" fill="#fb1c1c" stroke="#2a1e14" stroke-opacity="0.85" stroke-width="0.9"/>
<line x1="1535.4" y1="552.5" x2="1535.4" y2="638.0" stroke="#000" stroke-width="1.9"/>
<rect x="1533.22" y="555.5" width="4.4" height="81.5" fill="#fb1c1c" stroke="#2a1e14" stroke-opacity="0.85" stroke-width="0.9"/>
<line x1="1552.2" y1="618.8" x2="1552.2" y2="647.0" stroke="#000" stroke-width="1.9"/>
<rect x="1549.98" y="620.0" width="4.4" height="20.0" fill="#2d7d0c" stroke="#2a1e14" stroke-opacity="0.85" stroke-width="0.9"/>
<line x1="1560.6" y1="577.5" x2="1560.6" y2="625.5" stroke="#000" stroke-width="1.9"/>
<rect x="1558.36" y="591.8" width="4.4" height="28.0" fill="#2d7d0c" stroke="#2a1e14" stroke-opacity="0.85" stroke-width="0.9"/>
<line x1="1568.9" y1="540.8" x2="1568.9" y2="594.5" stroke="#000" stroke-width="1.9"/>
<rect x="1566.74" y="568.2" width="4.4" height="23.8" fill="#2d7d0c" stroke="#2a1e14" stroke-opacity="0.85" stroke-width="0.9"/>
<line x1="1577.3" y1="546.2" x2="1577.3" y2="570.8" stroke="#000" stroke-width="1.9"/>
<rect x="1575.12" y="553.8" width="4.4" height="15.0" fill="#2d7d0c" stroke="#2a1e14" stroke-opacity="0.85" stroke-width="0.9"/>
<path d="M57.4 120.0H70.2V680.3H57.4" stroke="#2e860d" stroke-width="1.8" fill="none"/>
<line x1="57.4" y1="175.9" x2="70.2" y2="175.9" stroke="#2e860d" stroke-width="1.8"/>
<text x="9.17" y="183.4" font-size="23.3" fill="#2e860d" textLength="41.56" lengthAdjust="spacingAndGlyphs">0.88</text>
<line x1="57.4" y1="269.3" x2="70.2" y2="269.3" stroke="#2e860d" stroke-width="1.8"/>
<text x="9.16" y="276.8" font-size="23.3" fill="#2e860d" textLength="41.72" lengthAdjust="spacingAndGlyphs">0.87</text>
<line x1="57.4" y1="362.7" x2="70.2" y2="362.7" stroke="#2e860d" stroke-width="1.8"/>
<text x="9.17" y="370.2" font-size="23.3" fill="#2e860d" textLength="41.57" lengthAdjust="spacingAndGlyphs">0.86</text>
<line x1="57.4" y1="456.1" x2="70.2" y2="456.1" stroke="#2e860d" stroke-width="1.8"/>
<text x="9.17" y="463.6" font-size="23.3" fill="#2e860d" textLength="41.57" lengthAdjust="spacingAndGlyphs">0.86</text>
<line x1="57.4" y1="549.4" x2="70.2" y2="549.4" stroke="#2e860d" stroke-width="1.8"/>
<text x="9.17" y="556.9" font-size="23.3" fill="#2e860d" textLength="41.53" lengthAdjust="spacingAndGlyphs">0.85</text>
<line x1="57.4" y1="642.8" x2="70.2" y2="642.8" stroke="#2e860d" stroke-width="1.8"/>
<text x="9.17" y="650.3" font-size="23.3" fill="#2e860d" textLength="41.53" lengthAdjust="spacingAndGlyphs">0.85</text>
<path d="M1597.5 120.0H1586.8V680.3H1597.5" stroke="#8a8a8a" stroke-width="1.8" fill="none"/>
<line x1="1586.8" y1="120.0" x2="1597.5" y2="120.0" stroke="#8a8a8a" stroke-width="1.8"/>
<text x="1604.16" y="127.5" font-size="23.3" fill="#1f2d3f" textLength="38.83" lengthAdjust="spacingAndGlyphs">80%</text>
<line x1="1586.8" y1="176.0" x2="1597.5" y2="176.0" stroke="#8a8a8a" stroke-width="1.8"/>
<text x="1604.00" y="183.5" font-size="23.3" fill="#1f2d3f" textLength="38.99" lengthAdjust="spacingAndGlyphs">75%</text>
<line x1="1586.8" y1="232.1" x2="1597.5" y2="232.1" stroke="#8a8a8a" stroke-width="1.8"/>
<text x="1604.00" y="239.6" font-size="23.3" fill="#1f2d3f" textLength="38.99" lengthAdjust="spacingAndGlyphs">70%</text>
<line x1="1586.8" y1="288.1" x2="1597.5" y2="288.1" stroke="#8a8a8a" stroke-width="1.8"/>
<text x="1604.01" y="295.6" font-size="23.3" fill="#1f2d3f" textLength="38.98" lengthAdjust="spacingAndGlyphs">65%</text>
<line x1="1586.8" y1="344.1" x2="1597.5" y2="344.1" stroke="#8a8a8a" stroke-width="1.8"/>
<text x="1604.01" y="351.6" font-size="23.3" fill="#1f2d3f" textLength="38.98" lengthAdjust="spacingAndGlyphs">60%</text>
<line x1="1586.8" y1="400.1" x2="1597.5" y2="400.1" stroke="#8a8a8a" stroke-width="1.8"/>
<text x="1604.22" y="407.6" font-size="23.3" fill="#1f2d3f" textLength="38.77" lengthAdjust="spacingAndGlyphs">55%</text>
<line x1="1586.8" y1="456.2" x2="1597.5" y2="456.2" stroke="#8a8a8a" stroke-width="1.8"/>
<text x="1604.22" y="463.7" font-size="23.3" fill="#1f2d3f" textLength="38.77" lengthAdjust="spacingAndGlyphs">50%</text>
<line x1="1586.8" y1="512.2" x2="1597.5" y2="512.2" stroke="#8a8a8a" stroke-width="1.8"/>
<text x="1604.56" y="519.7" font-size="23.3" fill="#1f2d3f" textLength="38.42" lengthAdjust="spacingAndGlyphs">45%</text>
<line x1="1586.8" y1="568.2" x2="1597.5" y2="568.2" stroke="#8a8a8a" stroke-width="1.8"/>
<text x="1604.56" y="575.7" font-size="23.3" fill="#1f2d3f" textLength="38.42" lengthAdjust="spacingAndGlyphs">40%</text>
<line x1="1586.8" y1="624.3" x2="1597.5" y2="624.3" stroke="#8a8a8a" stroke-width="1.8"/>
<text x="1604.26" y="631.8" font-size="23.3" fill="#1f2d3f" textLength="38.73" lengthAdjust="spacingAndGlyphs">35%</text>
<line x1="1586.8" y1="680.3" x2="1597.5" y2="680.3" stroke="#8a8a8a" stroke-width="1.8"/>
<text x="1604.26" y="687.8" font-size="23.3" fill="#1f2d3f" textLength="38.73" lengthAdjust="spacingAndGlyphs">30%</text>
<line x1="77.6" y1="761.8" x2="1578.3" y2="761.8" stroke="#aeaeae" stroke-width="1.7" stroke-dasharray="4.1 3.85"/>
<line x1="77.6" y1="795.8" x2="1578.3" y2="795.8" stroke="#aeaeae" stroke-width="1.7" stroke-dasharray="4.1 3.85"/>
<line x1="77.6" y1="829.8" x2="1578.3" y2="829.8" stroke="#aeaeae" stroke-width="1.7" stroke-dasharray="4.1 3.85"/>
<line x1="77.6" y1="863.8" x2="1578.3" y2="863.8" stroke="#aeaeae" stroke-width="1.7" stroke-dasharray="4.1 3.85"/>
<line x1="77.6" y1="897.8" x2="1578.3" y2="897.8" stroke="#aeaeae" stroke-width="1.7" stroke-dasharray="4.1 3.85"/>
<line x1="77.6" y1="931.8" x2="1578.3" y2="931.8" stroke="#aeaeae" stroke-width="1.7" stroke-dasharray="4.1 3.85"/>
<line x1="203.9" y1="761.8" x2="203.9" y2="931.8" stroke="#a8a8a8" stroke-width="1.4" stroke-dasharray="3.4 4.8"/>
<line x1="463.7" y1="761.8" x2="463.7" y2="931.8" stroke="#a8a8a8" stroke-width="1.4" stroke-dasharray="3.4 4.8"/>
<line x1="715.1" y1="761.8" x2="715.1" y2="931.8" stroke="#a8a8a8" stroke-width="1.4" stroke-dasharray="3.4 4.8"/>
<line x1="974.9" y1="761.8" x2="974.9" y2="931.8" stroke="#a8a8a8" stroke-width="1.4" stroke-dasharray="3.4 4.8"/>
<line x1="1234.5" y1="761.8" x2="1234.5" y2="931.8" stroke="#a8a8a8" stroke-width="1.4" stroke-dasharray="3.4 4.8"/>
<line x1="1477.5" y1="761.8" x2="1477.5" y2="931.8" stroke="#a8a8a8" stroke-width="1.4" stroke-dasharray="3.4 4.8"/>
<line x1="77.89999999999999" y1="761.8" x2="77.89999999999999" y2="931.8" stroke="#b0b0b0" stroke-width="1.3" stroke-dasharray="3.4 3.4"/>
<line x1="1578.3" y1="761.8" x2="1578.3" y2="931.8" stroke="#cacaca" stroke-width="1.8" stroke-dasharray="3 5"/>
<line x1="77.6" y1="931.8" x2="1578.3" y2="931.8" stroke="#b5b5b5" stroke-width="1.2"/>
<path d="M77.6 846.0L86.4 846.0L94.8 846.0L103.1 849.2L111.5 856.2L119.9 856.8L128.3 863.8L136.7 878.5L145.0 880.0L153.4 878.5L161.8 863.0L170.2 865.8L178.6 856.8L186.9 854.2L195.3 866.2L203.7 866.8L212.1 865.8L220.5 857.0L228.8 857.2L237.2 859.2L245.6 861.5L254.0 863.0L262.4 863.0L270.7 863.8L279.1 853.0L287.5 851.8L295.9 850.8L304.3 858.8L312.6 866.2L321.0 866.2L329.4 863.8L337.8 869.5L346.2 870.0L354.5 864.8L362.9 878.5L371.3 884.2L379.7 884.2L388.1 883.0L396.4 869.2L404.8 870.5L413.2 869.5L421.6 870.8L430.0 878.0L438.3 878.2L446.7 878.2L455.1 874.8L463.5 871.2L471.9 858.8L480.2 874.2L488.6 869.5L497.0 869.5L505.4 868.8L513.8 858.8L522.1 871.2L530.5 865.5L538.9 871.2L547.3 894.0L555.7 894.0L564.0 891.8L572.4 884.5L580.8 875.8L589.2 880.0L597.6 884.5L605.9 889.0L614.3 889.2L622.7 889.5L631.1 882.5L639.5 854.5L647.8 843.2L656.2 843.2L664.6 835.0L673.0 834.8L681.4 836.8L689.7 828.0L698.1 821.5L706.5 823.8L714.9 823.2L723.3 807.0L731.6 807.0L740.0 807.5L748.4 792.8L756.8 788.8L765.2 786.8L773.5 788.2L781.9 800.5L790.3 800.8L798.7 800.0L807.1 791.8L815.4 798.2L823.8 807.5L832.2 817.0L840.6 819.2L849.0 819.5L857.3 818.5L865.7 842.5L874.1 836.8L882.5 853.0L890.9 861.2L899.2 869.5L907.6 869.5L916.0 869.2L924.4 869.2L932.8 871.2L941.1 872.0L949.5 875.8L957.9 877.5L966.3 877.2L974.7 876.2L983.0 875.8L991.4 872.5L999.8 855.0L1008.2 850.0L1016.6 845.5L1024.9 845.5L1033.3 843.8L1041.7 838.2L1050.1 836.5L1058.5 841.2L1066.8 836.0L1075.2 837.2L1083.6 837.2L1092.0 836.5L1100.4 831.2L1108.7 825.5L1117.1 828.5L1125.5 820.0L1133.9 834.5L1142.3 834.8L1150.6 835.2L1159.0 808.8L1167.4 799.5L1175.8 808.2L1184.2 800.8L1192.5 809.2L1200.9 809.2L1209.3 809.2L1217.7 788.8L1226.1 802.5L1234.4 781.8L1242.8 788.0L1251.2 794.0L1259.6 794.0L1268.0 793.2L1276.3 805.0L1284.7 778.0L1293.1 760.0L1301.5 774.5L1309.9 783.2L1318.2 783.2L1326.6 787.5L1335.0 779.5L1343.4 768.8L1351.8 793.8L1360.1 799.5L1368.5 800.5L1376.9 800.8L1385.3 800.0L1393.7 794.2L1402.0 803.2L1410.4 798.8L1418.8 785.0L1427.2 789.0L1435.6 789.2L1443.9 788.0L1452.3 798.8L1460.7 801.2L1469.1 808.0L1477.5 808.2L1485.8 818.8L1494.2 818.8L1502.6 817.5L1511.0 805.8L1519.4 804.2L1527.7 821.2L1536.1 818.2L1544.5 798.8L1552.9 798.8L1561.3 797.5L1569.6 805.0L1577.8 818.8" stroke="#1b9de3" stroke-width="2.8" fill="none" stroke-linejoin="miter"/>
<path d="M77.6 885.5L86.4 885.2L94.8 883.0L103.1 870.5L111.5 863.5L119.9 863.5L128.3 844.5L136.7 837.0L145.0 835.5L153.4 833.0L161.8 833.8L170.2 823.0L178.6 837.5L186.9 850.8L195.3 853.8L203.7 854.0L212.1 853.5L220.5 845.5L228.8 845.2L237.2 846.0L245.6 848.8L254.0 856.2L262.4 856.2L270.7 855.0L279.1 862.0L287.5 857.0L295.9 862.8L304.3 864.0L312.6 871.2L321.0 871.5L329.4 876.5L337.8 848.0L346.2 848.0L354.5 853.2L362.9 841.0L371.3 849.5L379.7 849.8L388.1 848.2L396.4 843.5L404.8 847.5L413.2 845.5L421.6 843.8L430.0 839.8L438.3 839.5L446.7 837.0L455.1 830.0L463.5 848.0L471.9 857.0L480.2 849.2L488.6 875.0L497.0 875.0L505.4 873.8L513.8 877.0L522.1 862.5L530.5 857.0L538.9 848.8L547.3 832.2L555.7 832.2L564.0 840.0L572.4 851.0L580.8 859.5L589.2 844.5L597.6 835.2L605.9 837.2L614.3 837.5L622.7 840.0L631.1 829.2L639.5 863.8L647.8 859.2L656.2 871.2L664.6 880.2L673.0 880.2L681.4 879.0L689.7 885.0L698.1 887.5L706.5 890.8L714.9 895.8L723.3 914.8L731.6 914.8L740.0 913.5L748.4 905.2L756.8 905.2L765.2 903.5L773.5 902.0L781.9 908.5L790.3 908.8L798.7 911.0L807.1 902.5L815.4 897.5L823.8 892.0L832.2 892.0L840.6 908.0L849.0 908.0L857.3 906.8L865.7 888.2L874.1 894.0L882.5 880.5L890.9 871.2L899.2 876.8L907.6 876.8L916.0 877.8L924.4 878.8L932.8 874.0L941.1 872.5L949.5 870.5L957.9 879.5L966.3 879.5L974.7 878.5L983.0 877.5L991.4 860.8L999.8 881.2L1008.2 885.0L1016.6 896.8L1024.9 896.8L1033.3 893.2L1041.7 887.5L1050.1 887.2L1058.5 887.5L1066.8 894.0L1075.2 896.8L1083.6 896.8L1092.0 895.0L1100.4 891.2L1108.7 895.2L1117.1 895.5L1125.5 903.0L1133.9 901.2L1142.3 901.2L1150.6 901.2L1159.0 904.0L1167.4 902.5L1175.8 910.0L1184.2 914.2L1192.5 906.2L1200.9 906.2L1209.3 907.0L1217.7 912.0L1226.1 897.5L1234.4 908.8L1242.8 904.5L1251.2 906.8L1259.6 907.0L1268.0 908.0L1276.3 886.2L1284.7 904.5L1293.1 910.0L1301.5 908.0L1309.9 912.5L1318.2 912.5L1326.6 910.8L1335.0 910.0L1343.4 914.2L1351.8 895.5L1360.1 888.8L1368.5 898.8L1376.9 898.5L1385.3 896.5L1393.7 889.0L1402.0 891.2L1410.4 884.2L1418.8 900.0L1427.2 907.5L1435.6 907.5L1443.9 908.5L1452.3 892.5L1460.7 895.0L1469.1 883.0L1477.5 891.2L1485.8 895.8L1494.2 895.8L1502.6 895.8L1511.0 896.8L1519.4 899.5L1527.7 887.0L1536.1 905.5L1544.5 919.2L1552.9 919.2L1561.3 919.2L1569.6 911.2L1577.8 898.2" stroke="#cf021b" stroke-width="2.8" fill="none" stroke-linejoin="miter"/>
<path d="M1597.5 761.8H1586.8V931.8H1597.5" stroke="#8a8a8a" stroke-width="1.8" fill="none"/>
<line x1="1586.8" y1="761.8" x2="1597.5" y2="761.8" stroke="#8a8a8a" stroke-width="1.8"/>
<text x="1604.12" y="769.9" font-size="23.6" fill="#1f2d3f" textLength="35.41" lengthAdjust="spacingAndGlyphs">600</text>
<line x1="1586.8" y1="795.8" x2="1597.5" y2="795.8" stroke="#8a8a8a" stroke-width="1.8"/>
<text x="1604.36" y="803.9" font-size="23.6" fill="#1f2d3f" textLength="35.17" lengthAdjust="spacingAndGlyphs">500</text>
<line x1="1586.8" y1="829.8" x2="1597.5" y2="829.8" stroke="#8a8a8a" stroke-width="1.8"/>
<text x="1604.72" y="837.9" font-size="23.6" fill="#1f2d3f" textLength="34.79" lengthAdjust="spacingAndGlyphs">400</text>
<line x1="1586.8" y1="863.8" x2="1597.5" y2="863.8" stroke="#8a8a8a" stroke-width="1.8"/>
<text x="1604.40" y="871.9" font-size="23.6" fill="#1f2d3f" textLength="35.12" lengthAdjust="spacingAndGlyphs">300</text>
<line x1="1586.8" y1="897.8" x2="1597.5" y2="897.8" stroke="#8a8a8a" stroke-width="1.8"/>
<text x="1604.13" y="905.9" font-size="23.6" fill="#1f2d3f" textLength="35.40" lengthAdjust="spacingAndGlyphs">200</text>
<line x1="1586.8" y1="931.8" x2="1597.5" y2="931.8" stroke="#8a8a8a" stroke-width="1.8"/>
<text x="1603.56" y="939.9" font-size="23.6" fill="#1f2d3f" textLength="35.99" lengthAdjust="spacingAndGlyphs">100</text>
<line x1="203.9" y1="931.8" x2="203.9" y2="942.5" stroke="#828282" stroke-width="1.7"/>
<text x="-114.95" y="0" font-size="24" fill="#1f2d3f" textLength="115.97" lengthAdjust="spacingAndGlyphs" transform="translate(211.0 954.3) rotate(-90)">2023-Oct-01</text>
<line x1="463.7" y1="931.8" x2="463.7" y2="942.5" stroke="#828282" stroke-width="1.7"/>
<text x="-119.59" y="0" font-size="24" fill="#1f2d3f" textLength="120.61" lengthAdjust="spacingAndGlyphs" transform="translate(470.8 954.3) rotate(-90)">2023-Nov-01</text>
<line x1="715.1" y1="931.8" x2="715.1" y2="942.5" stroke="#828282" stroke-width="1.7"/>
<text x="-119.59" y="0" font-size="24" fill="#1f2d3f" textLength="120.61" lengthAdjust="spacingAndGlyphs" transform="translate(722.2 954.3) rotate(-90)">2023-Dec-01</text>
<line x1="974.9" y1="931.8" x2="974.9" y2="942.5" stroke="#828282" stroke-width="1.7"/>
<text x="-116.13" y="0" font-size="24" fill="#1f2d3f" textLength="117.15" lengthAdjust="spacingAndGlyphs" transform="translate(982.0 954.3) rotate(-90)">2024-Jan-01</text>
<line x1="1234.5" y1="931.8" x2="1234.5" y2="942.5" stroke="#828282" stroke-width="1.7"/>
<text x="-118.44" y="0" font-size="24" fill="#1f2d3f" textLength="119.46" lengthAdjust="spacingAndGlyphs" transform="translate(1241.6 954.3) rotate(-90)">2024-Feb-01</text>
<line x1="1477.5" y1="931.8" x2="1477.5" y2="942.5" stroke="#828282" stroke-width="1.7"/>
<text x="-118.42" y="0" font-size="24" fill="#1f2d3f" textLength="119.44" lengthAdjust="spacingAndGlyphs" transform="translate(1484.6 954.3) rotate(-90)">2024-Mar-01</text>
<text x="94.08" y="738.6" font-size="24.3" font-weight="bold" fill="#0a0a0a" textLength="223.79" lengthAdjust="spacingAndGlyphs">Percentage of Traders</text>
<rect x="375.05" y="721.15" width="19.8" height="19.4" fill="#e8f4fd" stroke="#1b9de3" stroke-width="4.1"/>
<text x="404.69" y="738.6" font-size="24.3" fill="#111" textLength="81.08" lengthAdjust="spacingAndGlyphs">net long</text>
<rect x="605.25" y="721.15" width="19.8" height="19.4" fill="#f8e4e8" stroke="#cf021b" stroke-width="4.1"/>
<text x="634.92" y="738.6" font-size="24.3" fill="#111" textLength="86.74" lengthAdjust="spacingAndGlyphs">net short</text>
<text x="834.11" y="738.6" font-size="24.3" font-weight="bold" fill="#0a0a0a" textLength="185.54" lengthAdjust="spacingAndGlyphs">Number of Traders</text>
<line x1="1075" y1="730.8" x2="1094.5" y2="730.8" stroke="#1b9de3" stroke-width="4"/>
<text x="1104.89" y="738.6" font-size="24.3" fill="#111" textLength="80.98" lengthAdjust="spacingAndGlyphs">net long</text>
<line x1="1305" y1="730.8" x2="1324.5" y2="730.8" stroke="#cf021b" stroke-width="4"/>
<text x="1334.71" y="738.6" font-size="24.3" fill="#111" textLength="87.25" lengthAdjust="spacingAndGlyphs">net short</text>
<text x="563.21" y="48" font-size="45" font-weight="bold" fill="#000" textLength="516.99" lengthAdjust="spacingAndGlyphs" stroke="#fff" stroke-width="0.5">EUR/GBP Client Positioning</text>
<text x="685.96" y="110.8" font-size="33.4" font-weight="bold" fill="#000" textLength="267.19" lengthAdjust="spacingAndGlyphs" stroke="#fff" stroke-width="0.5">IG Client Sentiment</text>
<text y="40.6" font-size="41.6" font-weight="bold" stroke-width="0.6" stroke-linejoin="round"><tspan x="1453.55" textLength="29.67" lengthAdjust="spacingAndGlyphs" fill="#4b5567" stroke="#4b5567">D</tspan><tspan x="1489.13" textLength="25.30" lengthAdjust="spacingAndGlyphs" fill="#4b5567" stroke="#4b5567">A</tspan><tspan x="1520.75" textLength="13.50" lengthAdjust="spacingAndGlyphs" fill="#4b5567" stroke="#4b5567">I</tspan><tspan x="1539.00" textLength="21.90" lengthAdjust="spacingAndGlyphs" fill="#4b5567" stroke="#4b5567">L</tspan><tspan x="1564.70" textLength="23.57" lengthAdjust="spacingAndGlyphs" fill="#4b5567" stroke="#4b5567">Y</tspan><tspan x="1594.20" textLength="30.10" lengthAdjust="spacingAndGlyphs" fill="#ff7a08" stroke="none">F</tspan><tspan x="1628.17" textLength="32.87" lengthAdjust="spacingAndGlyphs" fill="#ff7a08" stroke="none">X</tspan></text>
<rect x="1526.2" y="6.1" width="2.6" height="40.2" fill="#4b5567"/>
<text x="1522.01" y="67.7" font-size="20.2" fill="#4b5567" textLength="103.23" lengthAdjust="spacingAndGlyphs">provided by</text>
<text x="1634.17" y="71.6" font-size="29.3" font-weight="bold" fill="#e0141e" textLength="28.82" lengthAdjust="spacingAndGlyphs">IG</text>
<defs><filter id="wm" x="-5%" y="-20%" width="112%" height="150%"><feGaussianBlur in="SourceAlpha" stdDeviation="0.9" result="b"/><feOffset in="b" dx="1.6" dy="1.6" result="o"/><feComposite in="o" in2="SourceAlpha" operator="out" result="sh"/><feFlood flood-color="#333" flood-opacity="0.55"/><feComposite in2="sh" operator="in" result="shc"/><feMerge><feMergeNode in="shc"/><feMergeNode in="SourceGraphic"/></feMerge></filter></defs>
<g font-style="italic" font-weight="900"><text x="1419" y="1040" font-size="58" font-family="'Noto Sans CJK SC', 'WenQuanYi Zen Hei', sans-serif" fill="#fff" opacity="0.8" filter="url(#wm)" textLength="231" lengthAdjust="spacingAndGlyphs">宏与财经</text><text x="1433" y="1077" font-size="31" font-weight="bold" font-family="'Liberation Sans', sans-serif" fill="#86bde9" stroke="#86bde9" stroke-width="1.4" opacity="0.95" filter="url(#wm)" textLength="222" lengthAdjust="spacing">zzrt01.cn</text></g>
</svg>
</body></html>
